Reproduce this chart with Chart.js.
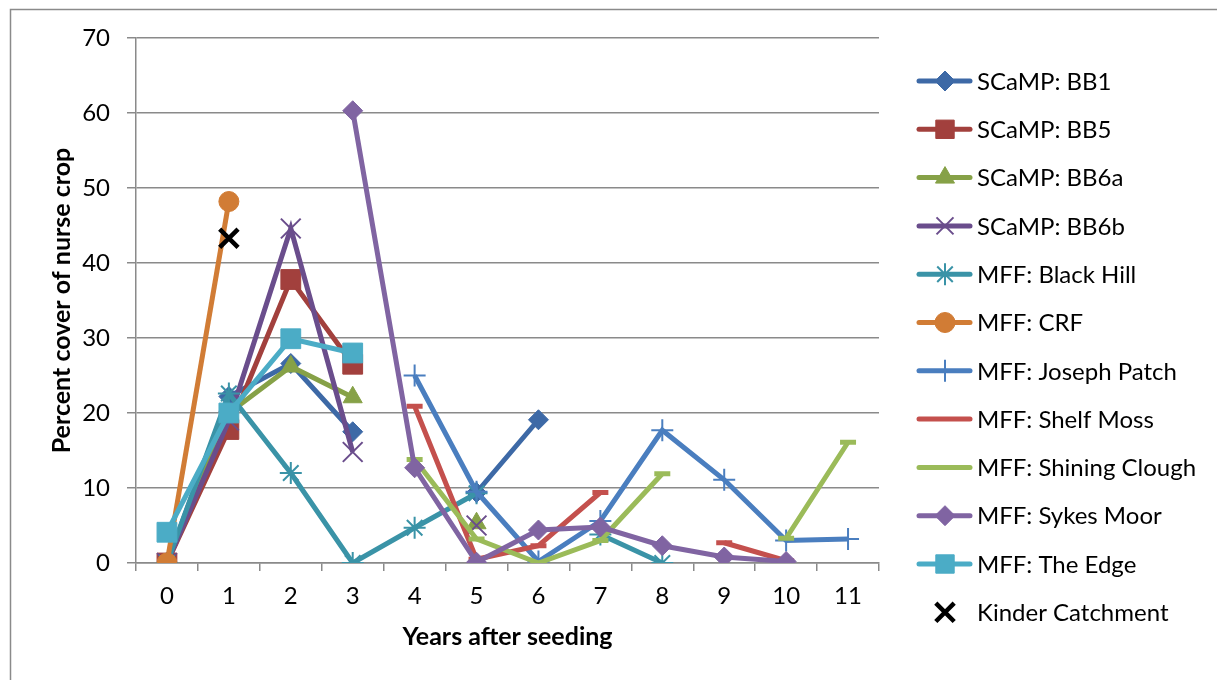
<!DOCTYPE html>
<html>
<head>
<meta charset="utf-8">
<script src="https://cdn.jsdelivr.net/npm/chart.js@4/dist/chart.umd.min.js"></script>
<style>
  body { margin: 0; background: #fff; }
  #wrap { width: 1217px; height: 680px; }
</style>
</head>
<body>
<div id="wrap"><canvas id="chart" width="1217" height="680"></canvas></div>
<script>
// years after seeding
const years = ['0', '1', '2', '3', '4', '5', '6', '7', '8', '9', '10', '11'];
const yTicks = [0, 10, 20, 30, 40, 50, 60, 70];

// percent cover of nurse crop per site (null = no survey)
const bb1 = [0, 22.2, 26.6, 17.5, null, 9.4, 19.1];
const bb5 = [0, 17.8, 37.8, 26.5];
const bb6a = [0, 20, 26.2, 22.1, null, 5.3];
const bb6b = [0, 19, 44.6, 14.8, null, 5];
const blackHill = [0, 22.6, 12, 0, 4.7, 9.3, null, 3.8, 0];
const crf = [0, 48.2];
const josephPatch = [null, null, null, null, 25, 9.5, 0.2, 5.6, 17.7, 11.1, 3, 3.2];
const shelfMoss = [null, null, null, null, 20.9, 0.5, 2.3, 9.4, null, 2.7, 0.3];
const shiningClough = [null, null, null, null, 13.8, 3.2, 0, 3, 11.9, null, 3.3, 16.1];
const sykesMoor = [null, null, null, 60.3, 12.7, 0.1, 4.4, 4.8, 2.3, 0.8, 0.2];
const theEdge = [4.1, 20, 29.9, 28];
const kinder = [null, 43.3];

const FONT = 'Lato, "Open Sans", sans-serif';

function series(label, data, color, style, radius, bw, extra) {
    return Object.assign({
        label: label,
        data: data,
        borderColor: color,
        backgroundColor: color,
        borderWidth: 5,
        pointStyle: style,
        pointRadius: radius,
        pointHoverRadius: radius,
        pointBorderWidth: bw,
        pointBorderColor: color,
        pointBackgroundColor: color,
        spanGaps: false,
        tension: 0
    }, extra || {});
}

const datasets = [
    series('SCaMP: BB1', bb1, '#3D69A6', 'rectRot', 10, 1),
    series('SCaMP: BB5', bb5, '#A2403D', 'rect', 14, 1),
    series('SCaMP: BB6a', bb6a, '#86A147', 'triangle', 11, 1),
    series('SCaMP: BB6b', bb6b, '#6A4D8C', 'crossRot', 14, 2),
    series('MFF: Black Hill', blackHill, '#3A93A7', 'star', 11, 2),
    series('MFF: CRF', crf, '#D17C35', 'circle', 10, 1),
    series('MFF: Joseph Patch', josephPatch, '#4A7EBF', 'cross', 11, 2),
    series('MFF: Shelf Moss', shelfMoss, '#C4504D', 'line', 8, 5),
    series('MFF: Shining Clough', shiningClough, '#9BBB59', 'line', 8, 5),
    series('MFF: Sykes Moor', sykesMoor, '#8064A2', 'rectRot', 10, 1),
    series('MFF: The Edge', theEdge, '#4BACC6', 'rect', 14, 1),
    series('Kinder Catchment', kinder, '#000000', 'crossRot', 13, 4.5, { showLine: false })
];
// later series sit on top, like the original
datasets.forEach((d, i) => { d.order = datasets.length - i; });

// hand drawn legend (line + marker) and the outer frame
const legendPlugin = {
    id: 'sideLegend',
    beforeDraw(chart) {
        const ctx = chart.ctx;
        ctx.save();
        ctx.strokeStyle = '#8a8a8a';
        ctx.lineWidth = 1.5;
        ctx.beginPath();
        ctx.moveTo(10.5, 680);
        ctx.lineTo(10.5, 9.5);
        ctx.lineTo(1217, 9.5);
        ctx.stroke();
        ctx.restore();
    },
    afterDraw(chart) {
        const ctx = chart.ctx;
        ctx.save();
        chart.data.datasets.forEach((d, i) => {
            const y = 81 + i * 48.3;
            if (d.showLine !== false) {
                ctx.strokeStyle = d.borderColor;
                ctx.lineWidth = 5;
                ctx.lineCap = 'round';
                ctx.beginPath();
                ctx.moveTo(919, y);
                ctx.lineTo(970, y);
                ctx.stroke();
            }
            if (d.pointStyle !== 'line') {
                let r = d.pointRadius;
                if (d.pointStyle === 'rect') r = 13;
                if (d.pointStyle === 'crossRot' && d.showLine !== false) r = 12;
                ctx.fillStyle = d.pointBackgroundColor;
                ctx.strokeStyle = d.pointBorderColor;
                ctx.lineWidth = d.pointBorderWidth;
                ctx.lineCap = 'butt';
                Chart.helpers.drawPoint(ctx, {
                    pointStyle: d.pointStyle,
                    radius: r,
                    rotation: 0,
                    borderWidth: d.pointBorderWidth
                }, 945, y);
            }
            ctx.fillStyle = '#000';
            ctx.font = '24px ' + FONT;
            ctx.textAlign = 'left';
            ctx.textBaseline = 'middle';
            ctx.fillText(d.label, 977, y + 1);
        });
        ctx.restore();
    }
};

const ctx = document.getElementById('chart').getContext('2d');
const chart = new Chart(ctx, {
    type: 'line',
    data: { labels: years, datasets: datasets },
    plugins: [legendPlugin],
    options: {
        responsive: false,
        animation: false,
        layout: { padding: { left: 0, top: 38, right: 338, bottom: 0 } },
        plugins: { legend: { display: false }, tooltip: { enabled: false } },
        scales: {
            x: {
                type: 'category',
                offset: true,
                afterFit: s => { s.height = 117; },
                grid: { offset: true, drawOnChartArea: false, color: '#8a8a8a', lineWidth: 1.5, tickLength: 8 },
                border: { color: '#8a8a8a', width: 1.5 },
                ticks: { color: '#000', font: { family: FONT, size: 24 }, padding: 11, maxRotation: 0 },
                title: {
                    display: true, text: 'Years after seeding', color: '#000',
                    font: { family: FONT, size: 25, weight: 'bold' }, padding: { top: 0, bottom: 28 }
                }
            },
            y: {
                min: 0, max: 70,
                afterFit: s => { s.width = 136; },
                afterBuildTicks: s => { s.ticks = yTicks.map(v => ({ value: v })); },
                grid: { color: '#8a8a8a', lineWidth: 1.5, tickLength: 9 },
                border: { color: '#8a8a8a', width: 1.5 },
                ticks: { color: '#000', font: { family: FONT, size: 24 }, padding: 17 },
                title: {
                    display: true, text: 'Percent cover of nurse crop', color: '#000',
                    font: { family: FONT, size: 25, weight: 'bold' }, padding: { top: 47, bottom: 0 }
                }
            }
        }
    }
});
</script>
</body>
</html>
